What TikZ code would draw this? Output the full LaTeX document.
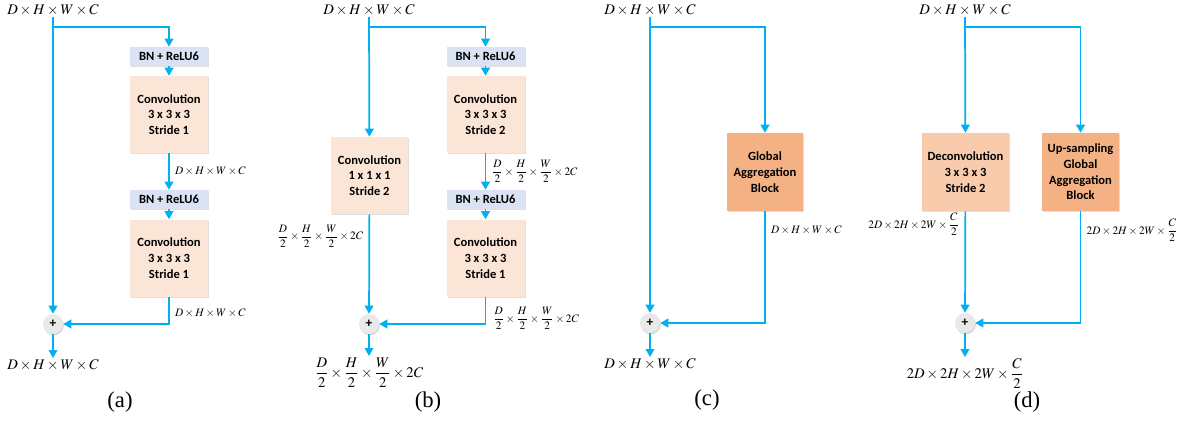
\documentclass[tikz,border=0pt]{standalone}
\usepackage{amsmath}
\usepackage{mathptmx}
\usepackage{fontspec}
\setmainfont{Liberation Serif}
\newfontfamily\blockfont{Carlito}
\usepackage{tikz}
\usetikzlibrary{arrows.meta,calc,positioning,shadows}

\definecolor{flowblue}{RGB}{0,176,240}
\definecolor{bnfill}{RGB}{218,227,243}
\definecolor{convfill}{RGB}{251,229,214}
\definecolor{deconvfill}{RGB}{248,203,173}
\definecolor{gabfill}{RGB}{244,177,131}
\definecolor{plusfill}{RGB}{233,233,233}

\begin{document}
\begin{tikzpicture}[x=0.75pt,y=-0.75pt,
flow/.style={draw=flowblue,line width=1.3pt,-{Triangle[length=6pt,width=6.5pt]}},
block/.style={inner sep=0pt,align=center,
  font=\blockfont\fontsize{9.4}{11.8}\selectfont\bfseries,
  drop shadow={shadow xshift=0.8pt,shadow yshift=-0.8pt,opacity=0.25}},
bnbox/.style={block,fill=bnfill,minimum width=58.5pt,minimum height=14.25pt},
convbox/.style={block,fill=convfill,minimum width=58.5pt,minimum height=57.75pt},
gabbox/.style={block,fill=gabfill,minimum width=57pt,minimum height=58.5pt},
deconvbox/.style={block,fill=deconvfill,minimum width=65pt,minimum height=58.5pt},
plus/.style={circle,fill=plusfill,minimum size=15pt,inner sep=0pt,
  font=\blockfont\fontsize{10}{10}\selectfont\bfseries,
  drop shadow={shadow xshift=0.6pt,shadow yshift=-0.9pt,opacity=0.35}},
dims/.style={inner sep=1pt,font=\fontsize{11}{13}\selectfont},
dimsmall/.style={inner sep=1pt,font=\fontsize{8.5}{10}\selectfont},
caption/.style={font=\fontsize{17}{20}\selectfont},
]
\useasboundingbox (0,0) rectangle (1188,421);

% (a)
\node[dims] (ina) at (53,10) {$D\times H\times W\times C$};
\coordinate (splita) at (53,27);
\node[bnbox] (bna1) at (169,56.5) {BN + ReLU6};
\node[convbox] (conva1) at (169,114.5) {Convolution\\3 x 3 x 3\\Stride 1};
\node[bnbox] (bna2) at (169,199.5) {BN + ReLU6};
\node[convbox] (conva2) at (169,258) {Convolution\\3 x 3 x 3\\Stride 1};
\node[plus] (plusa) at (53,324) {+};
\node[dims,anchor=north] (outa) at (53,358) {$D\times H\times W\times C$};
\node[caption] (capa) at (120,402) {(a)};
\draw[flow] (ina.south) -- (plusa);
\draw[flow] (splita) -| (bna1);
\draw[flow] (bna1) -- (conva1);
\draw[flow] (conva1) -- node[dimsmall,right=3pt] {$D\times H\times W\times C$} (bna2);
\draw[flow] (bna2) -- (conva2);
\draw[flow] (conva2.south) |- node[dimsmall,pos=0.3,right=3pt] {$D\times H\times W\times C$} (plusa);
\draw[flow] (plusa) -- (outa);

% (b)
\node[dims] (inb) at (369,10) {$D\times H\times W\times C$};
\coordinate (splitb) at (369,27);
\node[bnbox] (bnb1) at (485.5,56.5) {BN + ReLU6};
\node[convbox] (convb1) at (485.5,114.5) {Convolution\\3 x 3 x 3\\Stride 2};
\node[bnbox] (bnb2) at (485.5,199.5) {BN + ReLU6};
\node[convbox] (convb2) at (485.5,258) {Convolution\\3 x 3 x 3\\Stride 1};
\node[convbox,minimum width=57.75pt] (convb0) at (369.5,175.5) {Convolution\\1 x 1 x 1\\Stride 2};
\node[plus] (plusb) at (369,324) {+};
\node[dims,anchor=north] (outb) at (369,356) {$\dfrac{D}{2}\times\dfrac{H}{2}\times\dfrac{W}{2}\times 2C$};
\node[caption] (capb) at (428,402) {(b)};
\draw[flow] (inb.south) -- (convb0);
\draw[flow] (splitb) -| (bnb1);
\draw[flow] (bnb1) -- (convb1);
\draw[flow] (convb1) -- node[dimsmall,right=3pt] {$\dfrac{D}{2}\times\dfrac{H}{2}\times\dfrac{W}{2}\times 2C$} (bnb2);
\draw[flow] (bnb2) -- (convb2);
\draw[flow] (convb0) -- node[dimsmall,pos=0.22,left=3pt] {$\dfrac{D}{2}\times\dfrac{H}{2}\times\dfrac{W}{2}\times 2C$} (plusb);
\draw[flow] (convb2.south) |- node[dimsmall,pos=0.4,right=4pt] {$\dfrac{D}{2}\times\dfrac{H}{2}\times\dfrac{W}{2}\times 2C$} (plusb);
\draw[flow] (plusb) -- (outb);

% (c)
\node[dims] (inc) at (650,10) {$D\times H\times W\times C$};
\coordinate (splitc) at (650,27);
\node[gabbox] (gabc) at (765,172) {Global\\Aggregation\\Block};
\node[plus] (plusc) at (650,323) {+};
\node[dims,anchor=north] (outc) at (650,357) {$D\times H\times W\times C$};
\node[caption] (capc) at (707,400) {(c)};
\draw[flow] (inc.south) -- (plusc);
\draw[flow] (splitc) -| (gabc);
\draw[flow] (gabc.south) |- node[dimsmall,pos=0.085,right=3pt] {$D\times H\times W\times C$} (plusc);
\draw[flow] (plusc) -- (outc);

% (d)
\node[dims] (ind) at (965,10) {$D\times H\times W\times C$};
\coordinate (splitd) at (965,27);
\node[deconvbox] (deconvd) at (965.5,172) {Deconvolution\\3 x 3 x 3\\Stride 2};
\node[gabbox,minimum width=57.75pt] (upgabd) at (1080.5,172) {Up-sampling\\Global\\Aggregation\\Block};
\node[plus] (plusd) at (965,323) {+};
\node[dims,anchor=north] (outd) at (965,357) {$2D\times 2H\times 2W\times\dfrac{C}{2}$};
\node[caption] (capd) at (1027,402) {(d)};
\draw[flow] (ind.south) -- (deconvd);
\draw[flow] (splitd) -| (upgabd);
\draw[flow] (deconvd) -- node[dimsmall,pos=0.13,left=3pt] {$2D\times 2H\times 2W\times\dfrac{C}{2}$} (plusd);
\draw[flow] (upgabd.south) |- node[dimsmall,pos=0.085,right=3pt] {$2D\times 2H\times 2W\times\dfrac{C}{2}$} (plusd);
\draw[flow] (plusd) -- (outd);
\end{tikzpicture}
\end{document}
